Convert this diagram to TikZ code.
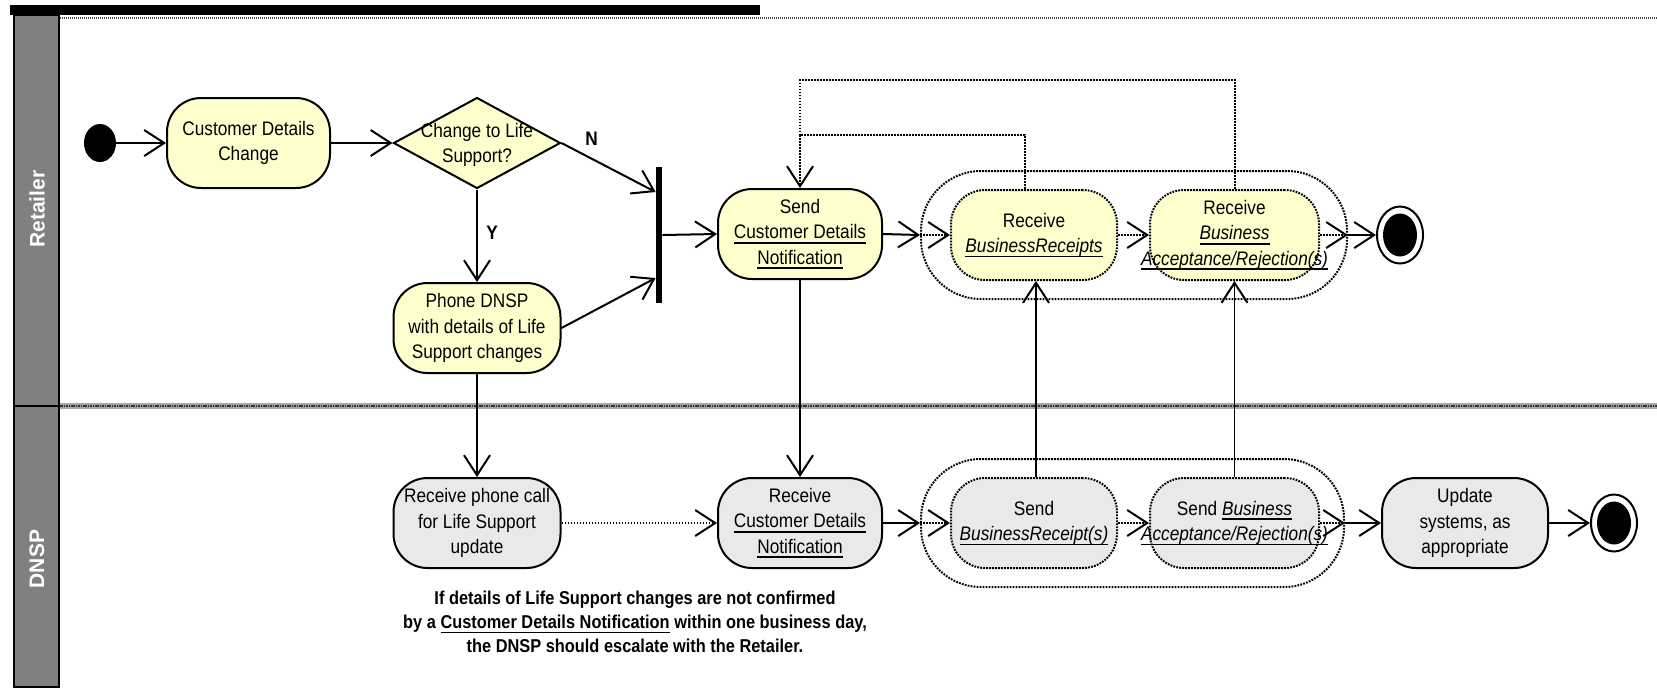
\documentclass[tikz,border=0pt]{standalone}
\usepackage{fontspec}
\setmainfont{Liberation Sans}[FakeStretch=0.88]
\newfontfamily\lanefont{Liberation Sans}
\usetikzlibrary{arrows.meta,shapes.geometric}

\definecolor{actyellow}{RGB}{255,255,206}
\definecolor{actgray}{RGB}{233,233,233}
\definecolor{lanegray}{RGB}{128,128,128}

% underline drawn as a rule under the text
\newsavebox\ulbox
\newcommand\uln[1]{\sbox\ulbox{#1}\rlap{\rule[-2.4pt]{\wd\ulbox}{0.8pt}}\usebox\ulbox}

\tikzset{
  x=0.5pt, y=-0.5pt,
  every node/.style={font=\fontsize{9.8}{12.7}\selectfont},
  act/.style={draw, line width=1pt, rounded corners=17pt, minimum width=#1,
    minimum height=45pt, align=center, inner sep=0pt},
  yact/.style={act=#1, fill=actyellow},
  gact/.style={act=#1, fill=actgray},
  dotborder/.style={dash pattern=on 0.9pt off 0.6pt},
  yinact/.style={yact=#1, dotborder},
  ginact/.style={gact=#1, dotborder},
  region/.style={draw, line width=1pt, dotborder, rounded corners=30pt,
    minimum width=#1, minimum height=64pt, inner sep=0pt},
  tip/.style={-{Straight Barb[length=10pt,width=13pt,line width=1pt]}},
  flow/.style={line width=1pt, tip},
  thinflow/.style={line width=0.7pt, tip},
  dotflow/.style={line width=1pt, dotborder, tip},
  dotline/.style={line width=1pt, dotborder},
  startnode/.style={ellipse, fill=black, minimum width=16pt, minimum height=19pt, inner sep=0pt},
  endnode/.style={ellipse, draw, line width=1pt, minimum width=23pt, minimum height=28.5pt, inner sep=0pt},
  lanelabel/.style={rotate=90, text=white, font=\lanefont\bfseries\fontsize{10.5}{12}\selectfont},
  guard/.style={font=\bfseries\fontsize{9.8}{12}\selectfont},
}

\begin{document}
\begin{tikzpicture}
\useasboundingbox (0,0) rectangle (1657,687);

% swimlane frame
\draw[line width=1.2pt, black!70, dash pattern=on 0.6pt off 0.4pt] (60,18) -- (1657,18);
\fill (10,5) rectangle (760,15);
\draw[line width=3pt, black!35] (59,406) -- (1657,406);
\draw[line width=1pt, black!80, dash pattern=on 0.8pt off 0.4pt] (59,406) -- (1657,406);
\filldraw[fill=lanegray, draw=black, line width=1pt] (14,15) rectangle (59,687);
\draw[line width=1pt] (14,406) -- (59,406);
\node[lanelabel] (laneR) at (37,209) {Retailer};
\node[lanelabel] (laneD) at (37,559) {DNSP};

% Retailer lane
\node[startnode] (start) at (100,143) {};
\node[yact=81.5pt] (cdc) at (248.5,143) {Customer Details\\Change};
\node[diamond, draw, line width=1pt, fill=actyellow, minimum width=83.5pt,
      minimum height=45.5pt, inner sep=0pt] (dec) at (477,143) {};
\node[align=center] (dectext) at (477,145) {Change to Life\\Support?};
\node[yact=83.5pt] (phone) at (477,328) {Phone DNSP\\with details of Life\\Support changes};
\node[fill, minimum width=3pt, minimum height=68pt, inner sep=0pt] (join) at (659,235) {};
\node[yact=82pt] (sendcdn) at (800,234) {Send\\\uln{Customer Details}\\\uln{Notification}};

\node[region=213pt] (reg1) at (1134,235) {};
\node[yinact=83pt] (rbr) at (1034,235) {Receive\\\uln{\itshape BusinessReceipts}};
\node[yinact=84.5pt] (rba) at (1234.5,235)
  {Receive\\\uln{\itshape Business}\\\makebox[0pt]{\uln{\itshape Acceptance/Rejection(s)}}};
\node[endnode] (end1) at (1400,235) {};
\fill (end1.center) ellipse (8.5pt and 10.75pt);

% DNSP lane
\node[gact=83.5pt] (rpc) at (477,523) {Receive phone call\\for Life Support\\update};
\node[gact=82pt] (rcdn) at (800,523) {Receive\\\uln{Customer Details}\\\uln{Notification}};
\node[region=211.5pt] (reg2) at (1132.5,523) {};
\node[ginact=83pt] (sbr) at (1034,523) {Send\\\uln{\itshape BusinessReceipt(s)}};
\node[ginact=84.5pt] (sba) at (1234.5,523)
  {Send \uln{\itshape Business}\\\makebox[0pt]{\uln{\itshape Acceptance/Rejection(s)}}};
\node[gact=83pt] (upd) at (1465,523) {Update\\systems, as\\appropriate};
\node[endnode] (end2) at (1614,523) {};
\fill (end2.center) ellipse (8.5pt and 10.75pt);

\node[align=center, font=\bfseries\fontsize{9.3}{12}\selectfont] (note) at (635,622)
  {If details of Life Support changes are not confirmed\\
   by a \uln{Customer Details Notification} within one business day,\\
   the DNSP should escalate with the Retailer.};

% control flow, Retailer lane
\draw[flow] (start) -- (cdc);
\draw[flow] (cdc) -- (dec.west);
\draw[flow] (dec.east) -- node[guard, pos=0.32, above=3pt] (lblN) {N} ([yshift=21.5pt]join.west);
\draw[thinflow] (dec.south) -- node[guard, pos=0.47, right=1pt] (lblY) {Y} (phone.north);
\draw[flow] (phone.east) -- ([yshift=-21.5pt]join.west);
\draw[flow] (join.east) -- (sendcdn.west);
\draw[flow] (sendcdn.east) -- (reg1.west);
\draw[dotflow] (reg1.west) -- (rbr.west);
\draw[dotflow] (rbr.east) -- (rba.west);
\draw[dotflow] (rba.east) -- (reg1.east);
\draw[flow] (reg1.east) -- (end1);

% retry loops back to the notification
\coordinate (fbA) at (800,135);
\coordinate (fbB) at (800,80);
\draw[dotline] ([xshift=-4.5pt]rbr.north) |- (fbA);
\draw[dotline] (rba.north) |- (fbB) -- (fbA);
\draw[dotflow] (fbA) -- (sendcdn.north);

% messages between the lanes
\draw[thinflow] (phone.south) -- (rpc.north);
\draw[thinflow] (sendcdn.south) -- (rcdn.north);
\draw[thinflow] ([xshift=1pt]sbr.north) -- ([xshift=1pt]rbr.south);
\draw[thinflow] (sba.north) -- (rba.south);

% control flow, DNSP lane
\draw[dotflow] (rpc.east) -- (rcdn.west);
\draw[flow] (rcdn.east) -- (reg2.west);
\draw[dotflow] (reg2.west) -- (sbr.west);
\draw[dotflow] (sbr.east) -- (sba.west);
\draw[dotflow] (sba.east) -- (reg2.east);
\draw[flow] (reg2.east) -- (upd.west);
\draw[flow] (upd.east) -- (end2);
\end{tikzpicture}
\end{document}
